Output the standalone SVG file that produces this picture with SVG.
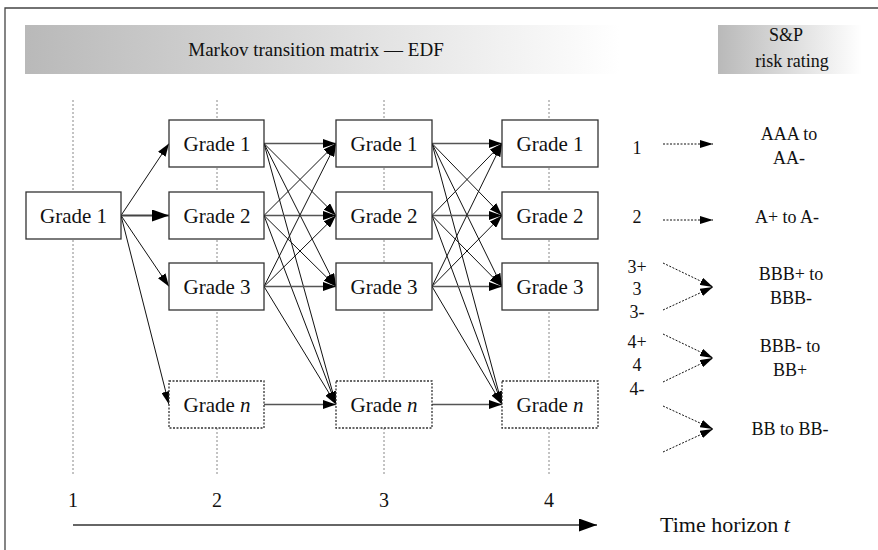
<svg xmlns="http://www.w3.org/2000/svg" width="878" height="550" viewBox="0 0 878 550" font-family="'Liberation Serif','Times New Roman',serif">
<style>
text{font-family:"Liberation Serif","Times New Roman",serif;fill:#111;}
.node rect{fill:#fff;stroke:#333;stroke-width:1.3;}
.node.dot rect{stroke-dasharray:2,1.5;}
.node text{font-size:21px;text-anchor:middle;}
.guide{stroke:#888;stroke-width:1;stroke-dasharray:2,2;}
.lab{font-size:18px;text-anchor:middle;}
.conn line{stroke:#111;stroke-width:1;marker-end:url(#arr);}
.conn line.h{stroke:#555;stroke-width:1.6;}
.conn line.big{stroke:#444;stroke-width:2;marker-end:url(#arrBig);}
.conn line.dash{stroke:#111;stroke-width:1;stroke-dasharray:2,1.5;marker-end:url(#arrSm);}
.conn line.axis{stroke:#333;stroke-width:1.6;marker-end:url(#arrAxis);}
</style>
<defs>
<linearGradient id="g1" x1="0" y1="0" x2="1" y2="0">
<stop offset="0" stop-color="#b9b9b9"/>
<stop offset="1" stop-color="#ffffff"/>
</linearGradient>
<marker id="arr" markerUnits="userSpaceOnUse" markerWidth="13" markerHeight="9" refX="13" refY="4.5" orient="auto"><path d="M0,0 L13,4.5 L0,9 z" fill="#000"/></marker>
<marker id="arrBig" markerUnits="userSpaceOnUse" markerWidth="17" markerHeight="12" refX="17" refY="6" orient="auto"><path d="M0,0 L17,6 L0,12 z" fill="#000"/></marker>
<marker id="arrSm" markerUnits="userSpaceOnUse" markerWidth="13" markerHeight="8" refX="13" refY="4" orient="auto"><path d="M0,0 L13,4 L0,8 z" fill="#000"/></marker>
<marker id="arrAxis" markerUnits="userSpaceOnUse" markerWidth="18" markerHeight="13" refX="18" refY="6.5" orient="auto"><path d="M0,0 L18,6.5 L0,13 z" fill="#000"/></marker>
</defs>

<rect width="878" height="550" fill="#fff"/>
<!-- frame -->
<path d="M5,550 V8 H878" fill="none" stroke="#444" stroke-width="1.3"/>

<!-- header bands -->
<g id="header">
<rect x="25" y="25" width="595" height="49" fill="url(#g1)"/>
<text x="316" y="56" font-size="19" text-anchor="middle">Markov transition matrix — EDF</text>
<rect x="718" y="25" width="144" height="49" fill="url(#g1)"/>
<text x="786" y="41" font-size="18" text-anchor="middle">S&amp;P</text>
<text x="792" y="67" font-size="18" text-anchor="middle">risk rating</text>
</g>

<!-- guides -->
<g id="guides">
<line class="guide" x1="73" y1="100" x2="73" y2="475"/>
<line class="guide" x1="217" y1="100" x2="217" y2="475"/>
<line class="guide" x1="384" y1="100" x2="384" y2="475"/>
<line class="guide" x1="549" y1="100" x2="549" y2="475"/>
</g>

<!-- connectors -->
<g id="connectors" class="conn">
<!-- col1 -> col2 -->
<line x1="121" y1="215.5" x2="169" y2="143.5"/>
<line class="big" x1="121" y1="215.5" x2="169" y2="215.5"/>
<line x1="121" y1="215.5" x2="169" y2="286.5"/>
<line x1="121" y1="215.5" x2="169" y2="404.5"/>
<!-- col2 -> col3 -->
<line class="h" x1="264" y1="143.5" x2="336" y2="143.5"/>
<line x1="264" y1="143.5" x2="336" y2="215.5"/>
<line x1="264" y1="143.5" x2="336" y2="286.5"/>
<line x1="264" y1="143.5" x2="336" y2="404.5"/>
<line x1="264" y1="215.5" x2="336" y2="143.5"/>
<line class="h" x1="264" y1="215.5" x2="336" y2="215.5"/>
<line x1="264" y1="215.5" x2="336" y2="286.5"/>
<line x1="264" y1="215.5" x2="336" y2="404.5"/>
<line x1="264" y1="286.5" x2="336" y2="143.5"/>
<line x1="264" y1="286.5" x2="336" y2="215.5"/>
<line class="h" x1="264" y1="286.5" x2="336" y2="286.5"/>
<line x1="264" y1="286.5" x2="336" y2="404.5"/>
<line class="h" x1="264" y1="404.5" x2="336" y2="404.5"/>
<!-- col3 -> col4 -->
<line class="h" x1="432" y1="143.5" x2="502" y2="143.5"/>
<line x1="432" y1="143.5" x2="502" y2="215.5"/>
<line x1="432" y1="143.5" x2="502" y2="286.5"/>
<line x1="432" y1="143.5" x2="502" y2="404.5"/>
<line x1="432" y1="215.5" x2="502" y2="143.5"/>
<line class="h" x1="432" y1="215.5" x2="502" y2="215.5"/>
<line x1="432" y1="215.5" x2="502" y2="286.5"/>
<line x1="432" y1="215.5" x2="502" y2="404.5"/>
<line x1="432" y1="286.5" x2="502" y2="143.5"/>
<line x1="432" y1="286.5" x2="502" y2="215.5"/>
<line class="h" x1="432" y1="286.5" x2="502" y2="286.5"/>
<line x1="432" y1="286.5" x2="502" y2="404.5"/>
<line class="h" x1="432" y1="404.5" x2="502" y2="404.5"/>
<!-- rating mapping -->
<line class="dash" x1="663" y1="144" x2="713" y2="144"/>
<line class="dash" x1="663" y1="220" x2="713" y2="220"/>
<line class="dash" x1="663" y1="263" x2="713" y2="287"/>
<line class="dash" x1="663" y1="310" x2="713" y2="287"/>
<line class="dash" x1="663" y1="334" x2="713" y2="358"/>
<line class="dash" x1="663" y1="382" x2="713" y2="358"/>
<line class="dash" x1="663" y1="406" x2="713" y2="429"/>
<line class="dash" x1="663" y1="452" x2="713" y2="429"/>
<!-- time axis -->
<line class="axis" x1="73" y1="525" x2="597" y2="525"/>
</g>

<!-- nodes -->
<g id="c1g1" class="node"><rect x="26" y="192" width="95" height="47"/><text x="73.5" y="223">Grade 1</text></g>
<g id="c2g1" class="node"><rect x="169" y="120" width="95" height="47"/><text x="217" y="151">Grade 1</text></g>
<g id="c2g2" class="node"><rect x="169" y="192" width="95" height="47"/><text x="217" y="223">Grade 2</text></g>
<g id="c2g3" class="node"><rect x="169" y="263" width="95" height="47"/><text x="217" y="294">Grade 3</text></g>
<g id="c2gn" class="node dot"><rect x="169" y="381" width="95" height="47"/><text x="217" y="412">Grade <tspan font-style="italic">n</tspan></text></g>
<g id="c3g1" class="node"><rect x="336" y="120" width="96" height="47"/><text x="384" y="151">Grade 1</text></g>
<g id="c3g2" class="node"><rect x="336" y="192" width="96" height="47"/><text x="384" y="223">Grade 2</text></g>
<g id="c3g3" class="node"><rect x="336" y="263" width="96" height="47"/><text x="384" y="294">Grade 3</text></g>
<g id="c3gn" class="node dot"><rect x="336" y="381" width="96" height="47"/><text x="384" y="412">Grade <tspan font-style="italic">n</tspan></text></g>
<g id="c4g1" class="node"><rect x="502" y="120" width="96" height="47"/><text x="550" y="151">Grade 1</text></g>
<g id="c4g2" class="node"><rect x="502" y="192" width="96" height="47"/><text x="550" y="223">Grade 2</text></g>
<g id="c4g3" class="node"><rect x="502" y="263" width="96" height="47"/><text x="550" y="294">Grade 3</text></g>
<g id="c4gn" class="node dot"><rect x="502" y="381" width="96" height="47"/><text x="550" y="412">Grade <tspan font-style="italic">n</tspan></text></g>

<!-- rating labels -->
<g id="ratings">
<text class="lab" x="637" y="154">1</text>
<text class="lab" x="637" y="223">2</text>
<text class="lab" x="637" y="273">3+</text>
<text class="lab" x="637" y="295">3</text>
<text class="lab" x="637" y="318">3-</text>
<text class="lab" x="637" y="348">4+</text>
<text class="lab" x="637" y="371">4</text>
<text class="lab" x="637" y="395">4-</text>
<text class="lab" x="789" y="140">AAA to</text>
<text class="lab" x="789" y="164">AA-</text>
<text class="lab" x="787" y="223">A+ to A-</text>
<text class="lab" x="791" y="280">BBB+ to</text>
<text class="lab" x="791" y="304">BBB-</text>
<text class="lab" x="790" y="352">BBB- to</text>
<text class="lab" x="790" y="376">BB+</text>
<text class="lab" x="790" y="435">BB to BB-</text>
</g>

<!-- time axis labels -->
<g id="axis-labels">
<text x="73" y="507" font-size="20" text-anchor="middle">1</text>
<text x="217" y="507" font-size="20" text-anchor="middle">2</text>
<text x="384" y="507" font-size="20" text-anchor="middle">3</text>
<text x="549" y="507" font-size="20" text-anchor="middle">4</text>
<text x="660" y="532" font-size="22">Time horizon <tspan font-style="italic">t</tspan></text>
</g>
</svg>
